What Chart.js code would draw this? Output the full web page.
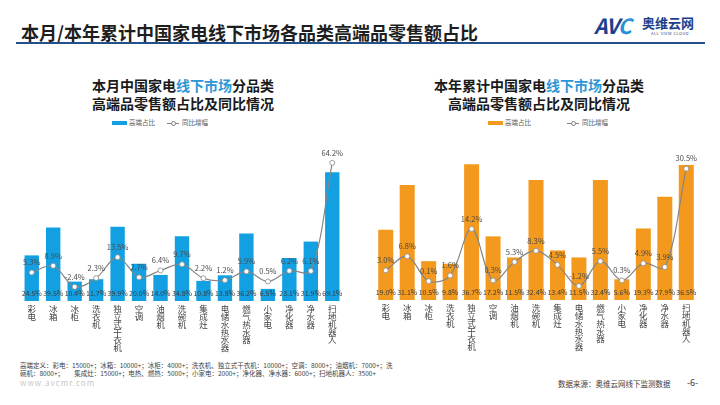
<!DOCTYPE html>
<html>
<head>
<meta charset="utf-8">
<script src="https://cdn.jsdelivr.net/npm/chart.js@4.4.1/dist/chart.umd.min.js"></script>
<style>
  body { margin: 0; width: 720px; height: 405px; background: #fff; position: relative; overflow: hidden;
         font-family: "Noto Sans CJK SC", "Noto Sans", sans-serif; }
  .abs { position: absolute; white-space: nowrap; }
  #mainTitle { left: 21px; top: 19px; font-size: 18px; font-weight: bold; color: #1e1e1e; line-height: 26px; }
  #topRule { left: 16px; top: 42px; width: 689px; height: 2px; background: #24508a; }
  .subTitle { font-size: 14px; font-weight: bold; color: #1a1a1a; line-height: 18px; text-align: center; width: 260px; }
  .subTitle .hl { color: #2c97d6; }
  .legend { font-size: 6.5px; color: #595959; line-height: 8px; }
  .swatch { display: inline-block; width: 15px; height: 4px; vertical-align: middle; margin-right: 2px; }
  .lineKey { display: inline-block; position: relative; width: 12px; height: 8px; vertical-align: middle; margin-right: 3px; }
  .lineKey::before { content: ""; position: absolute; left: 0; right: 0; top: 4px; height: 1px; background: #7f7f7f; }
  .lineKey::after { content: ""; position: absolute; left: 4px; top: 2px; width: 3px; height: 3px; border: 1px solid #7f7f7f; border-radius: 50%; background: #fff; }
  canvas { position: absolute; }
  .note { font-size: 6.5px; color: #404040; line-height: 8px; left: 20px; }
</style>
</head>
<body>
<div id="mainTitle" class="abs">本月/本年累计中国家电线下市场各品类高端品零售额占比</div>
<div id="topRule" class="abs"></div>

<div class="abs" style="left:594px; top:12px; font-size:21px; font-weight:bold; font-style:italic; color:#1c3f8c; letter-spacing:-1px; line-height:26px;">AV<span style="color:#2a8fd8">C</span></div>
<div class="abs" style="left:642px; top:15px; font-size:13px; font-weight:bold; color:#1c3f8c; line-height:16px;">奥维云网</div>
<div class="abs" style="left:651px; top:31px; font-size:4px; color:#1c3f8c; line-height:5px; letter-spacing:0.5px;">ALL VIEW CLOUD</div>

<div class="abs subTitle" style="left:53px; top:76px;">本月中国家电<span class="hl">线下市场</span>分品类<br>高端品零售额占比及同比情况</div>
<div class="abs subTitle" style="left:409px; top:76px;">本年累计中国家电<span class="hl">线下市场</span>分品类<br>高端品零售额占比及同比情况</div>

<div class="abs legend" style="left:112px; top:118px;"><span class="swatch" style="background:#12a0e3"></span>高端占比</div>
<div class="abs legend" style="left:167px; top:118px;"><span class="lineKey"></span>同比增幅</div>
<div class="abs legend" style="left:488px; top:118px;"><span class="swatch" style="background:#f39a1e"></span>高端占比</div>
<div class="abs legend" style="left:567px; top:118px;"><span class="lineKey"></span>同比增幅</div>

<canvas id="monthChart" width="360" height="225" style="left:0; top:130px;"></canvas>
<canvas id="yearChart" width="360" height="225" style="left:360px; top:130px;"></canvas>

<div class="abs note" style="top:361px;">高端定义：彩电：15000+；冰箱：10000+；冰柜：4000+；洗衣机、独立式干衣机：10000+；空调：8000+；油烟机：7000+；洗</div>
<div class="abs note" style="top:369px;">碗机：8000+；&nbsp;&nbsp;&nbsp;&nbsp;&nbsp;&nbsp;&nbsp;集成灶：15000+；电热、燃热：5000+；小家电：2000+；净化器、净水器：6000+；扫地机器人：3500+</div>
<div class="abs" style="left:20px; top:378px; font-size:8px; color:#c8c8c8; letter-spacing:1px; line-height:10px;">www.avcmr.com</div>
<div class="abs" style="left:558px; top:379px; font-size:7.5px; color:#404040; line-height:10px;">数据来源：奥维云网线下监测数据</div>
<div class="abs" style="left:687px; top:377px; font-size:9px; color:#404040; line-height:12px;">-6-</div>

<script>
// categories (shared by both charts)
const categories = ['彩电', '冰箱', '冰柜', '洗衣机', '独立式干衣机', '空调', '油烟机', '洗碗机',
  '集成灶', '电储水热水器', '燃气热水器', '小家电', '净化器', '净水器', '扫地机器人'];

// this month: high-end share (%) and YoY change (pct points)
const monthShare = [24.5, 39.5, 10.4, 11.7, 39.9, 20.0, 14.0, 34.8, 10.8, 13.8, 36.2, 6.5, 23.1, 31.9, 69.1];
const monthYoY = [5.3, 8.9, -2.4, 2.3, 13.5, 2.7, 6.4, 9.7, 2.2, 1.2, 5.9, 0.5, 6.2, 6.1, 64.2];

// year to date
const yearShare = [19.0, 31.1, 10.5, 9.8, 36.7, 17.2, 11.5, 32.4, 13.4, 11.5, 32.4, 5.6, 19.3, 27.9, 36.5];
const yearYoY = [3.0, 6.8, 0.1, 1.6, 14.2, 0.3, 5.3, 8.3, 4.5, -1.2, 5.5, 0.3, 4.9, 3.9, 30.5];

const legendNames = ['高端占比', '同比增幅'];

const FONT = '"Noto Sans CJK SC", "Noto Sans", sans-serif';

// draws % labels: bar values near the bottom of each bar, line values above the points
const valueLabels = {
  id: 'valueLabels',
  afterDatasetsDraw(chart) {
    const ctx = chart.ctx;
    ctx.save();
    ctx.textAlign = 'center';
    ctx.textBaseline = 'middle';
    chart.data.datasets.forEach((ds, i) => {
      const meta = chart.getDatasetMeta(i);
      meta.data.forEach((el, j) => {
        const txt = ds.data[j].toFixed(1) + '%';
        if (ds.type === 'bar') {
          ctx.font = '7px ' + FONT;
          ctx.fillStyle = '#3a3a3a';
          ctx.fillText(txt, el.x, el.base - 8);
        } else {
          ctx.font = '7.5px ' + FONT;
          ctx.fillStyle = '#4a4a4a';
          ctx.fillText(txt, el.x, el.y - 10);
        }
      });
    });
    ctx.restore();
  }
};

function makeChart(id, share, yoy, color, barMax, lineMin, lineMax, pad, barPct) {
  const labels = categories.map(c => c.split(''));
  return new Chart(document.getElementById(id), {
    data: {
      labels: labels,
      datasets: [
        {
          type: 'line',
          label: legendNames[1],
          data: yoy,
          yAxisID: 'yLine',
          order: 0,
          borderColor: '#858585',
          borderWidth: 1.2,
          tension: 0.35,
          pointRadius: 2.5,
          pointBackgroundColor: '#ffffff',
          pointBorderColor: '#8a8a8a',
          pointBorderWidth: 0.8
        },
        {
          type: 'bar',
          label: legendNames[0],
          data: share,
          yAxisID: 'yBar',
          order: 1,
          backgroundColor: color,
          categoryPercentage: 1,
          barPercentage: barPct
        }
      ]
    },
    options: {
      responsive: false,
      animation: false,
      layout: { padding: pad },
      plugins: { legend: { display: false }, tooltip: { enabled: false } },
      scales: {
        x: {
          grid: { display: false, drawTicks: false },
          border: { display: false },
          ticks: {
            autoSkip: false, maxRotation: 0, padding: 4, color: '#3f3f3f',
            font: { family: FONT, size: 8.5, lineHeight: 0.92 }
          },
          afterFit(scale) { scale.height = pad.axisH; }
        },
        yBar: { display: false, min: 0, max: barMax },
        yLine: { display: false, min: lineMin, max: lineMax }
      }
    },
    plugins: [valueLabels]
  });
}

makeChart('monthChart', monthShare, monthYoY, '#12a0e3', 80, -10, 70,
  { left: 21, right: 17, top: 22, bottom: 0, axisH: 54 }, 0.67);
makeChart('yearChart', yearShare, yearYoY, '#f39a1e', 40, -5, 35,
  { left: 15, right: 23, top: 22, bottom: 0, axisH: 55 }, 0.7);
</script>
</body>
</html>
